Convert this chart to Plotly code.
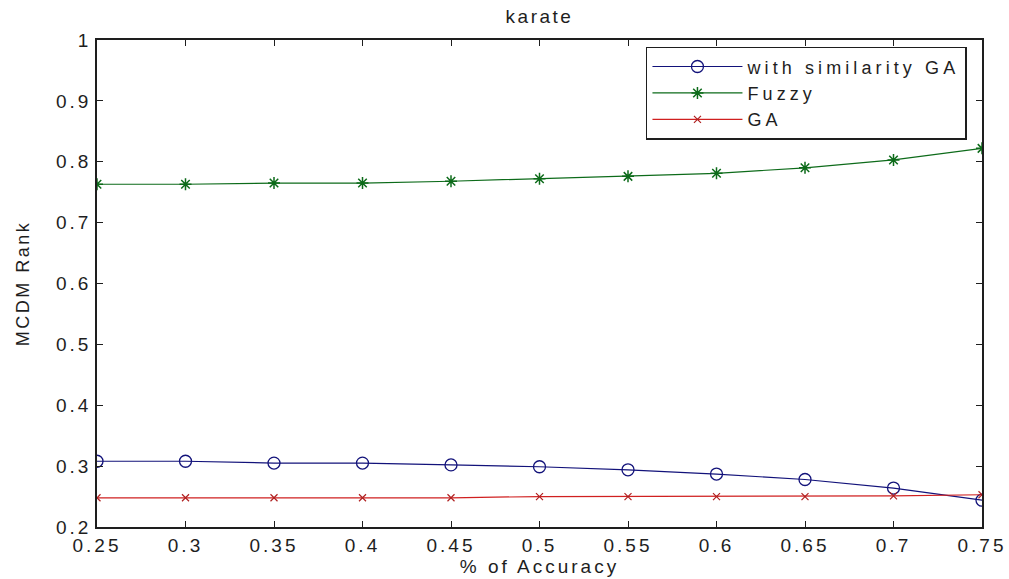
import plotly.graph_objects as go

accuracy = [0.25, 0.3, 0.35, 0.4, 0.45, 0.5, 0.55, 0.6, 0.65, 0.7, 0.75]
with_similarity_ga = [0.308, 0.308, 0.305, 0.305, 0.302, 0.299, 0.294, 0.287, 0.278, 0.264, 0.244]
fuzzy = [0.763, 0.763, 0.765, 0.765, 0.768, 0.772, 0.776, 0.781, 0.790, 0.803, 0.822]
ga = [0.248, 0.248, 0.248, 0.248, 0.248, 0.250, 0.250, 0.250, 0.250, 0.251, 0.253]

x_ticks = [0.25, 0.3, 0.35, 0.4, 0.45, 0.5, 0.55, 0.6, 0.65, 0.7, 0.75]
x_tick_text = ["0.25", "0.3", "0.35", "0.4", "0.45", "0.5", "0.55", "0.6", "0.65", "0.7", "0.75"]
y_ticks = [0.2, 0.3, 0.4, 0.5, 0.6, 0.7, 0.8, 0.9, 1.0]
y_tick_text = ["0.2", "0.3", "0.4", "0.5", "0.6", "0.7", "0.8", "0.9", "1"]

series_names = ["with similarity GA", "Fuzzy", "GA"]
chart_title = "karate"
x_title = "% of Accuracy"
y_title = "MCDM Rank"

FONT = "Liberation Sans, Arial, sans-serif"
TXT = "#1e1e1e"


def spaced(s, px=3):
    return '<span style="letter-spacing:%spx">%s</span>' % (px, s)


fig = go.Figure()
fig.add_trace(go.Scatter(
    x=accuracy, y=with_similarity_ga, mode="lines+markers", name=spaced(series_names[0], 4.1),
    line=dict(color="#12127a", width=1.2),
    marker=dict(symbol="circle-open", size=12, color="#12127a", line=dict(width=1.3)),
))
fig.add_trace(go.Scatter(
    x=accuracy, y=fuzzy, mode="lines+markers", name=spaced(series_names[1], 4.1),
    line=dict(color="#0d6b1a", width=1.2),
    marker=dict(symbol="asterisk-open", size=10, color="#0d6b1a", line=dict(width=1.5)),
))
fig.add_trace(go.Scatter(
    x=accuracy, y=ga, mode="lines+markers", name=spaced(series_names[2], 4.1),
    line=dict(color="#d02020", width=1.2),
    marker=dict(symbol="x-thin-open", size=7, color="#b02020", line=dict(width=1.2)),
))

fig.update_layout(
    width=1009, height=579,
    margin=dict(l=97, r=27, t=40, b=52, autoexpand=False),
    paper_bgcolor="white", plot_bgcolor="white",
    font=dict(family=FONT, size=19, color=TXT),
    title=dict(text=spaced(chart_title, 2.5), x=0.5, xref="paper", xanchor="center", y=1, yref="container",
               yanchor="top", pad=dict(t=10), font=dict(size=19, color=TXT), automargin=False),
    showlegend=True,
    legend=dict(x=0.983, y=0.986, xanchor="right", yanchor="top",
                bgcolor="white", bordercolor=TXT, borderwidth=1.5,
                font=dict(size=18, color=TXT), tracegroupgap=0,
                itemwidth=90),
)
fig.update_xaxes(
    range=[0.25, 0.75], tickvals=x_ticks, ticktext=[spaced(t) for t in x_tick_text],
    ticks="inside", ticklen=6, tickcolor=TXT, showline=True, linecolor=TXT, linewidth=1.5,
    mirror="ticks", showgrid=False, zeroline=False, automargin=False,
    tickfont=dict(size=19, color=TXT),
    title=dict(text=spaced(x_title, 3), font=dict(size=19, color=TXT), standoff=4),
)
fig.update_yaxes(
    range=[0.2, 1.0], tickvals=y_ticks, ticktext=[spaced(t) for t in y_tick_text],
    ticks="inside", ticklen=6, tickcolor=TXT, showline=True, linecolor=TXT, linewidth=1.5,
    mirror="ticks", showgrid=False, zeroline=False, automargin=False,
    tickfont=dict(size=19, color=TXT),
    title=dict(text=spaced(y_title, 2.5), font=dict(size=18, color=TXT), standoff=22),
)

fig.write_html("out.html")
